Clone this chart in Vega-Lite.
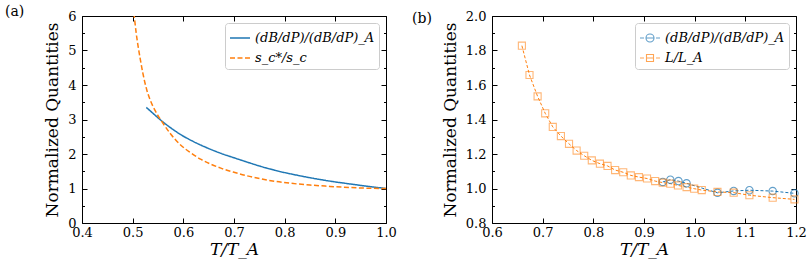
{
  "$schema": "https://vega.github.io/schema/vega-lite/v6.json",
  "padding": {"left": 5, "top": 2, "right": 5, "bottom": 2},
  "spacing": 15,
  "config": {
    "font": "DejaVu Serif",
    "view": {"stroke": null},
    "axis": {
      "grid": false,
      "domainColor": "#000000",
      "domainWidth": 1,
      "tickColor": "#000000",
      "tickWidth": 1,
      "labelColor": "#000000",
      "titleColor": "#000000",
      "labelFont": "DejaVu Serif",
      "titleFont": "DejaVu Serif",
      "labelFontSize": 13,
      "titleFontSize": 17,
      "titleFontWeight": "normal",
      "labelFlush": false
    },
    "legend": {
      "labelFont": "DejaVu Serif",
      "labelFontSize": 13,
      "labelFontStyle": "italic",
      "labelColor": "#000000",
      "labelLimit": 400
    }
  },
  "resolve": {
    "scale": {"color": "independent", "strokeDash": "independent", "shape": "independent"},
    "legend": {"color": "independent", "strokeDash": "independent", "shape": "independent"}
  },
  "hconcat": [
    {
      "width": 304,
      "height": 207,
      "title": {"text": "(a)", "anchor": "start", "frame": "group", "dx": -77, "offset": -16, "fontSize": 14, "fontWeight": "normal", "font": "DejaVu Serif", "color": "#000000"},
      "data": {"values": [
        {"T": 0.527, "v": 3.35, "s": "(dB/dP)/(dB/dP)_A"},
        {"T": 0.54, "v": 3.18, "s": "(dB/dP)/(dB/dP)_A"},
        {"T": 0.558, "v": 2.95, "s": "(dB/dP)/(dB/dP)_A"},
        {"T": 0.575, "v": 2.76, "s": "(dB/dP)/(dB/dP)_A"},
        {"T": 0.594, "v": 2.57, "s": "(dB/dP)/(dB/dP)_A"},
        {"T": 0.62, "v": 2.36, "s": "(dB/dP)/(dB/dP)_A"},
        {"T": 0.645, "v": 2.19, "s": "(dB/dP)/(dB/dP)_A"},
        {"T": 0.674, "v": 2.02, "s": "(dB/dP)/(dB/dP)_A"},
        {"T": 0.70, "v": 1.89, "s": "(dB/dP)/(dB/dP)_A"},
        {"T": 0.725, "v": 1.77, "s": "(dB/dP)/(dB/dP)_A"},
        {"T": 0.753, "v": 1.64, "s": "(dB/dP)/(dB/dP)_A"},
        {"T": 0.78, "v": 1.53, "s": "(dB/dP)/(dB/dP)_A"},
        {"T": 0.813, "v": 1.42, "s": "(dB/dP)/(dB/dP)_A"},
        {"T": 0.84, "v": 1.34, "s": "(dB/dP)/(dB/dP)_A"},
        {"T": 0.87, "v": 1.26, "s": "(dB/dP)/(dB/dP)_A"},
        {"T": 0.9, "v": 1.19, "s": "(dB/dP)/(dB/dP)_A"},
        {"T": 0.93, "v": 1.13, "s": "(dB/dP)/(dB/dP)_A"},
        {"T": 0.96, "v": 1.07, "s": "(dB/dP)/(dB/dP)_A"},
        {"T": 1.0, "v": 1.0, "s": "(dB/dP)/(dB/dP)_A"},
        {"T": 0.5, "v": 6.3, "s": "s_c*/s_c"},
        {"T": 0.503, "v": 6.0, "s": "s_c*/s_c"},
        {"T": 0.507, "v": 5.5, "s": "s_c*/s_c"},
        {"T": 0.511, "v": 5.1, "s": "s_c*/s_c"},
        {"T": 0.515, "v": 4.75, "s": "s_c*/s_c"},
        {"T": 0.52, "v": 4.35, "s": "s_c*/s_c"},
        {"T": 0.528, "v": 3.85, "s": "s_c*/s_c"},
        {"T": 0.535, "v": 3.55, "s": "s_c*/s_c"},
        {"T": 0.545, "v": 3.24, "s": "s_c*/s_c"},
        {"T": 0.558, "v": 2.93, "s": "s_c*/s_c"},
        {"T": 0.575, "v": 2.58, "s": "s_c*/s_c"},
        {"T": 0.594, "v": 2.27, "s": "s_c*/s_c"},
        {"T": 0.615, "v": 2.03, "s": "s_c*/s_c"},
        {"T": 0.634, "v": 1.85, "s": "s_c*/s_c"},
        {"T": 0.655, "v": 1.70, "s": "s_c*/s_c"},
        {"T": 0.674, "v": 1.59, "s": "s_c*/s_c"},
        {"T": 0.70, "v": 1.47, "s": "s_c*/s_c"},
        {"T": 0.725, "v": 1.37, "s": "s_c*/s_c"},
        {"T": 0.753, "v": 1.28, "s": "s_c*/s_c"},
        {"T": 0.78, "v": 1.21, "s": "s_c*/s_c"},
        {"T": 0.813, "v": 1.15, "s": "s_c*/s_c"},
        {"T": 0.85, "v": 1.10, "s": "s_c*/s_c"},
        {"T": 0.88, "v": 1.07, "s": "s_c*/s_c"},
        {"T": 0.912, "v": 1.04, "s": "s_c*/s_c"},
        {"T": 0.95, "v": 1.015, "s": "s_c*/s_c"},
        {"T": 1.0, "v": 1.0, "s": "s_c*/s_c"}
      ]},
      "layer": [
        {
          "mark": {"type": "line", "strokeWidth": 1.5, "clip": true, "interpolate": "monotone"},
          "encoding": {
            "x": {"field": "T", "type": "quantitative", "scale": {"domain": [0.4, 1.0], "nice": false, "zero": false},
              "axis": {"orient": "bottom", "values": [0.4, 0.5, 0.6, 0.7, 0.8, 0.9, 1.0], "format": ".1f", "tickSize": -5, "labelPadding": 8, "title": "T/T_A", "titleFontStyle": "italic", "titlePadding": 2}},
            "y": {"field": "v", "type": "quantitative", "scale": {"domain": [0, 6], "nice": false},
              "axis": {"orient": "left", "values": [0, 0.5, 1, 1.5, 2, 2.5, 3, 3.5, 4, 4.5, 5, 5.5, 6],
                "labelExpr": "datum.value % 1 == 0 ? format(datum.value, 'd') : ''",
                "tickSize": {"condition": {"test": "datum.value % 1 == 0", "value": -5}, "value": -2.5},
                "labelPadding": 11, "title": "Normalized Quantities", "titlePadding": 6}},
            "color": {"field": "s", "type": "nominal", "scale": {"domain": ["(dB/dP)/(dB/dP)_A", "s_c*/s_c"], "range": ["#1f77b4", "#ff7f0e"]},
              "legend": {"orient": "top-right", "offset": 7, "title": null, "symbolType": "stroke", "symbolSize": 400, "symbolStrokeWidth": 1.5, "strokeColor": "#cccccc", "fillColor": "rgba(255,255,255,0.8)", "padding": 4, "cornerRadius": 3, "rowPadding": 2}},
            "strokeDash": {"field": "s", "type": "nominal", "scale": {"domain": ["(dB/dP)/(dB/dP)_A", "s_c*/s_c"], "range": [[1, 0], [5, 2.5]]},
              "legend": {"orient": "top-right", "offset": 7, "title": null, "symbolType": "stroke", "symbolSize": 400, "symbolStrokeWidth": 1.5, "strokeColor": "#cccccc", "fillColor": "rgba(255,255,255,0.8)", "padding": 4, "cornerRadius": 3, "rowPadding": 2}}
          }
        },
        {
          "mark": {"type": "point", "opacity": 0},
          "encoding": {
            "x": {"field": "T", "type": "quantitative", "axis": {"orient": "top", "values": [0.4, 0.5, 0.6, 0.7, 0.8, 0.9, 1.0], "labels": false, "tickSize": -5, "title": null, "minExtent": 0, "maxExtent": 0}},
            "y": {"field": "v", "type": "quantitative", "axis": {"orient": "right", "values": [0, 0.5, 1, 1.5, 2, 2.5, 3, 3.5, 4, 4.5, 5, 5.5, 6], "labels": false, "title": null, "minExtent": 0, "maxExtent": 0,
              "tickSize": {"condition": {"test": "datum.value % 1 == 0", "value": -5}, "value": -2.5}}}
          }
        }
      ],
      "resolve": {"axis": {"x": "independent", "y": "independent"}}
    },
    {
      "width": 304,
      "height": 207,
      "title": {"text": "(b)", "anchor": "start", "frame": "group", "dx": -80, "offset": -16, "fontSize": 14, "fontWeight": "normal", "font": "DejaVu Serif", "color": "#000000"},
      "data": {"values": [
        {"T": 0.937, "v": 1.038, "s": "(dB/dP)/(dB/dP)_A"},
        {"T": 0.952, "v": 1.051, "s": "(dB/dP)/(dB/dP)_A"},
        {"T": 0.968, "v": 1.043, "s": "(dB/dP)/(dB/dP)_A"},
        {"T": 0.984, "v": 1.030, "s": "(dB/dP)/(dB/dP)_A"},
        {"T": 1.045, "v": 0.975, "s": "(dB/dP)/(dB/dP)_A"},
        {"T": 1.077, "v": 0.986, "s": "(dB/dP)/(dB/dP)_A"},
        {"T": 1.108, "v": 0.990, "s": "(dB/dP)/(dB/dP)_A"},
        {"T": 1.154, "v": 0.985, "s": "(dB/dP)/(dB/dP)_A"},
        {"T": 1.197, "v": 0.972, "s": "(dB/dP)/(dB/dP)_A"},
        {"T": 0.659, "v": 1.828, "s": "L/L_A"},
        {"T": 0.674, "v": 1.658, "s": "L/L_A"},
        {"T": 0.690, "v": 1.534, "s": "L/L_A"},
        {"T": 0.705, "v": 1.436, "s": "L/L_A"},
        {"T": 0.720, "v": 1.357, "s": "L/L_A"},
        {"T": 0.736, "v": 1.304, "s": "L/L_A"},
        {"T": 0.752, "v": 1.259, "s": "L/L_A"},
        {"T": 0.767, "v": 1.220, "s": "L/L_A"},
        {"T": 0.782, "v": 1.190, "s": "L/L_A"},
        {"T": 0.797, "v": 1.163, "s": "L/L_A"},
        {"T": 0.813, "v": 1.144, "s": "L/L_A"},
        {"T": 0.828, "v": 1.131, "s": "L/L_A"},
        {"T": 0.843, "v": 1.107, "s": "L/L_A"},
        {"T": 0.859, "v": 1.094, "s": "L/L_A"},
        {"T": 0.874, "v": 1.076, "s": "L/L_A"},
        {"T": 0.890, "v": 1.066, "s": "L/L_A"},
        {"T": 0.906, "v": 1.058, "s": "L/L_A"},
        {"T": 0.922, "v": 1.043, "s": "L/L_A"},
        {"T": 0.937, "v": 1.034, "s": "L/L_A"},
        {"T": 0.952, "v": 1.028, "s": "L/L_A"},
        {"T": 0.967, "v": 1.018, "s": "L/L_A"},
        {"T": 0.984, "v": 1.008, "s": "L/L_A"},
        {"T": 0.999, "v": 0.999, "s": "L/L_A"},
        {"T": 1.014, "v": 0.991, "s": "L/L_A"},
        {"T": 1.045, "v": 0.980, "s": "L/L_A"},
        {"T": 1.077, "v": 0.976, "s": "L/L_A"},
        {"T": 1.108, "v": 0.961, "s": "L/L_A"},
        {"T": 1.154, "v": 0.947, "s": "L/L_A"},
        {"T": 1.197, "v": 0.937, "s": "L/L_A"}
      ]},
      "layer": [
        {
          "mark": {"type": "line", "strokeWidth": 1, "strokeDash": [3, 2]},
          "encoding": {
            "x": {"field": "T", "type": "quantitative", "scale": {"domain": [0.6, 1.2], "nice": false, "zero": false},
              "axis": {"orient": "bottom", "values": [0.6, 0.7, 0.8, 0.9, 1.0, 1.1, 1.2], "format": ".1f", "tickSize": -5, "labelPadding": 8, "title": "T/T_A", "titleFontStyle": "italic", "titlePadding": 2}},
            "y": {"field": "v", "type": "quantitative", "scale": {"domain": [0.8, 2.0], "nice": false, "zero": false},
              "axis": {"orient": "left", "values": [0.8, 0.9, 1.0, 1.1, 1.2, 1.3, 1.4, 1.5, 1.6, 1.7, 1.8, 1.9, 2.0],
                "labelExpr": "round(datum.value * 10) % 2 == 0 ? format(datum.value, '.1f') : ''",
                "tickSize": {"condition": {"test": "round(datum.value * 10) % 2 == 0", "value": -5}, "value": -2.5},
                "labelPadding": 11, "title": "Normalized Quantities", "titlePadding": 6}},
            "color": {"field": "s", "type": "nominal", "scale": {"domain": ["(dB/dP)/(dB/dP)_A", "L/L_A"], "range": ["#1f77b4", "#ff7f0e"]},
              "legend": {"orient": "top-right", "offset": 7, "title": null, "symbolSize": 400, "symbolStrokeWidth": 1.1, "strokeColor": "#cccccc", "fillColor": "rgba(255,255,255,0.8)", "padding": 4, "cornerRadius": 3, "rowPadding": 2}}
          }
        },
        {
          "transform": [{"filter": "datum.s == '(dB/dP)/(dB/dP)_A'"}],
          "mark": {"type": "point", "shape": "circle", "filled": false, "size": 55, "strokeWidth": 1.1},
          "encoding": {
            "x": {"field": "T", "type": "quantitative", "axis": null},
            "y": {"field": "v", "type": "quantitative", "axis": null},
            "color": {"field": "s", "type": "nominal",
              "legend": {"orient": "top-right", "offset": 7, "title": null, "symbolSize": 400, "symbolStrokeWidth": 1.1, "strokeColor": "#cccccc", "fillColor": "rgba(255,255,255,0.8)", "padding": 4, "cornerRadius": 3, "rowPadding": 2}}
          }
        },
        {
          "transform": [{"filter": "datum.s == 'L/L_A'"}],
          "mark": {"type": "point", "shape": "square", "filled": false, "size": 50, "strokeWidth": 1.1, "strokeOpacity": 0.8},
          "encoding": {
            "x": {"field": "T", "type": "quantitative", "axis": null},
            "y": {"field": "v", "type": "quantitative", "axis": null},
            "color": {"field": "s", "type": "nominal",
              "legend": {"orient": "top-right", "offset": 7, "title": null, "symbolSize": 400, "symbolStrokeWidth": 1.1, "strokeColor": "#cccccc", "fillColor": "rgba(255,255,255,0.8)", "padding": 4, "cornerRadius": 3, "rowPadding": 2}}
          }
        },
        {
          "transform": [{"filter": "false"}],
          "mark": {"type": "point", "filled": false, "strokeWidth": 1.1},
          "encoding": {
            "x": {"field": "T", "type": "quantitative", "axis": null},
            "y": {"field": "v", "type": "quantitative", "axis": null},
            "color": {"field": "s", "type": "nominal",
              "legend": {"orient": "top-right", "offset": 7, "title": null, "symbolSize": 400, "symbolStrokeWidth": 1.1, "strokeColor": "#cccccc", "fillColor": "rgba(255,255,255,0.8)", "padding": 4, "cornerRadius": 3, "rowPadding": 2}},
            "shape": {"field": "s", "type": "nominal",
              "scale": {"domain": ["(dB/dP)/(dB/dP)_A", "L/L_A"], "range": ["M-1,0H-0.6M-0.4,0H0.4M0.6,0H1M0.4,0A0.4,0.4 0 1,1 -0.4,0A0.4,0.4 0 1,1 0.4,0", "M-1,0H-0.6M-0.35,0H0.35M0.6,0H1M-0.35,-0.35H0.35V0.35H-0.35Z"]},
              "legend": {"orient": "top-right", "offset": 7, "title": null, "symbolSize": 400, "symbolStrokeWidth": 1.1, "strokeColor": "#cccccc", "fillColor": "rgba(255,255,255,0.8)", "padding": 4, "cornerRadius": 3, "rowPadding": 2}}
          }
        },
        {
          "mark": {"type": "point", "opacity": 0},
          "encoding": {
            "x": {"field": "T", "type": "quantitative", "axis": {"orient": "top", "values": [0.6, 0.7, 0.8, 0.9, 1.0, 1.1, 1.2], "labels": false, "tickSize": -5, "title": null, "minExtent": 0, "maxExtent": 0}},
            "y": {"field": "v", "type": "quantitative", "axis": {"orient": "right", "values": [0.8, 0.9, 1.0, 1.1, 1.2, 1.3, 1.4, 1.5, 1.6, 1.7, 1.8, 1.9, 2.0], "labels": false, "title": null, "minExtent": 0, "maxExtent": 0,
              "tickSize": {"condition": {"test": "round(datum.value * 10) % 2 == 0", "value": -5}, "value": -2.5}}}
          }
        }
      ],
      "resolve": {"axis": {"x": "independent", "y": "independent"}}
    }
  ]
}
